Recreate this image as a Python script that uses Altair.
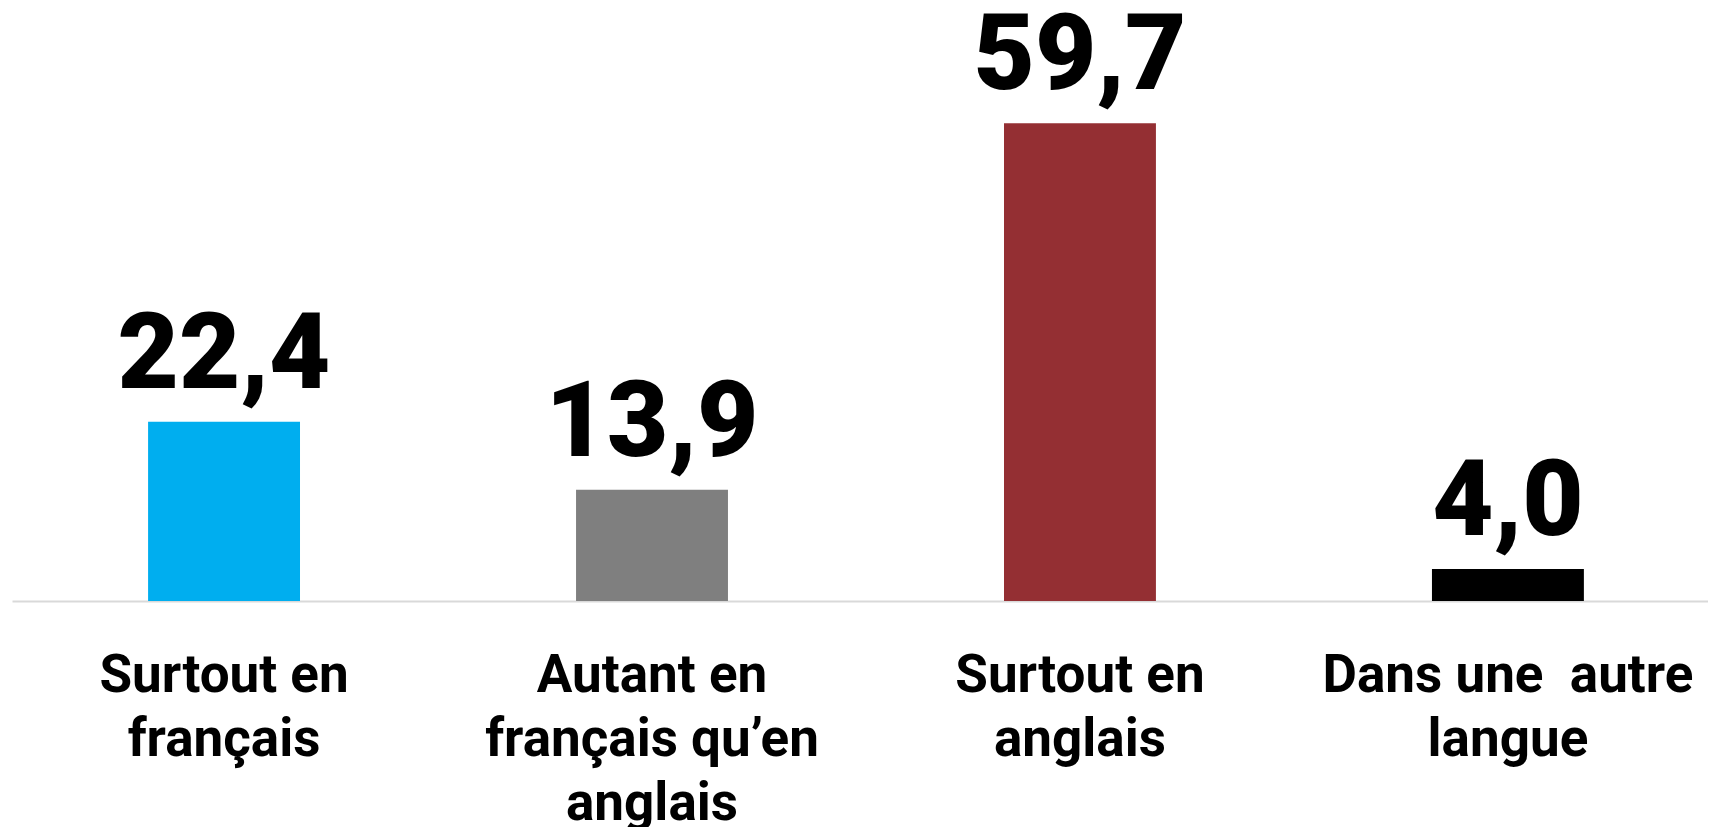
import altair as alt
import pandas as pd

categories = [
    "Surtout en\nfrançais",
    "Autant en\nfrançais qu’en\nanglais",
    "Surtout en\nanglais",
    "Dans une\u00a0 autre\nlangue",
]
values = [22.4, 13.9, 59.7, 4.0]
colors = ["#00AEEF", "#7F7F7F", "#942F33", "#000000"]

df = pd.DataFrame({"cat": categories, "value": values})

x = alt.X(
    "cat:N",
    sort=categories,
    title=None,
    scale=alt.Scale(paddingInner=0.645, paddingOuter=0.304, align=0.523),
    axis=alt.Axis(
        labelExpr="split(datum.label, '\\n')",
        labelAngle=0,
        labelFont="Roboto",
        labelFontWeight="bold",
        labelFontSize=53,
        labelLineHeight=64,
        labelColor="#000000",
        labelPadding=48,
        ticks=False,
        tickSize=0,
        domainColor="#d9d9d9",
        domainWidth=2,
        grid=False,
        labelLimit=1000,
    ),
)
y = alt.Y("value:Q", scale=alt.Scale(domain=[0, 74.1], nice=False), axis=None)

bars = alt.Chart(df).mark_bar().encode(
    x=x,
    y=y,
    color=alt.Color("cat:N", scale=alt.Scale(domain=categories, range=colors), legend=None),
)

text = alt.Chart(df).transform_calculate(
    lab="replace(format(datum.value, '.1f'), '.', ',')"
).mark_text(
    font="Roboto",
    fontWeight=900,
    fontSize=106,
    baseline="alphabetic",
    dy=-34,
    color="#000000",
).encode(x=alt.X("cat:N", sort=categories), y=y, text="lab:N")

chart = (
    alt.layer(bars, text)
    .properties(
        width=1696,
        height=593,
        background="white",
        autosize=alt.AutoSizeParams(type="none"),
        padding={"left": 4, "top": 0, "right": 0, "bottom": 226},
    )
    .configure_view(strokeWidth=0, stroke="transparent")
)

chart.save("out.html", embed_options={"renderer": "svg", "actions": False})
